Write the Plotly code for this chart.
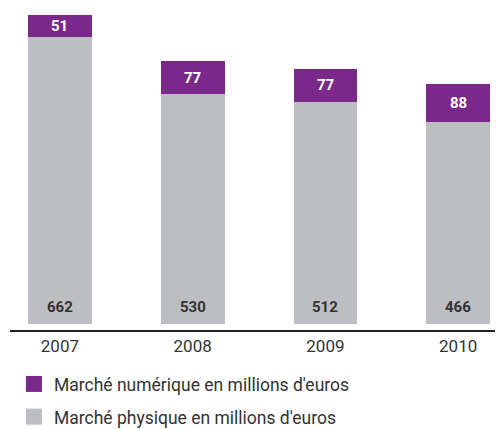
import plotly.graph_objects as go

years = ["2007", "2008", "2009", "2010"]
physique = [662, 530, 512, 466]
numerique = [51, 77, 77, 88]

purple = "#7A288A"
gray = "#BDBEC1"
font_family = "Roboto, Liberation Sans Narrow, sans-serif"

x = list(range(len(years)))

fig = go.Figure()
fig.add_trace(go.Bar(
    x=x, y=physique, marker=dict(color=gray, line=dict(width=0)), width=0.48,
    showlegend=False, name="Marché physique en millions d'euros",
))
fig.add_trace(go.Bar(
    x=x, y=numerique, marker=dict(color=purple, line=dict(width=0)), width=0.48,
    showlegend=False, name="Marché numérique en millions d'euros",
))
# value labels
for i in x:
    fig.add_annotation(x=i, y=0, yshift=17, text=str(physique[i]), showarrow=False,
                       xanchor="center", yanchor="middle",
                       font=dict(family=font_family, size=15, color="#333333", weight="bold"))
    fig.add_annotation(x=i, y=physique[i] + numerique[i] / 2, text=str(numerique[i]),
                       showarrow=False, xanchor="center", yanchor="middle",
                       font=dict(family=font_family, size=15, color="white", weight="bold"))
# legend entries
fig.add_trace(go.Scatter(x=[None], y=[None], mode="markers",
    marker=dict(symbol="square", size=16, color=purple),
    name="Marché numérique en millions d'euros", legendgroup="a"))
fig.add_trace(go.Scatter(x=[None], y=[None], mode="markers",
    marker=dict(symbol="square", size=16, color=gray),
    name="Marché physique en millions d'euros", legendgroup="b"))

fig.update_layout(
    width=495, height=421,
    margin=dict(l=2, r=0, t=0, b=99, autoexpand=False),
    barmode="stack",
    plot_bgcolor="white", paper_bgcolor="white",
    xaxis=dict(range=[-0.376, 3.338], tickvals=x, ticktext=years,
               showgrid=False, zeroline=False, showline=True,
               linecolor="#222222", linewidth=1.5, ticks="",
               tickfont=dict(family=font_family, size=17, color="#333333")),
    yaxis=dict(range=[-13.8, 729.2], visible=False, showgrid=False, zeroline=False),
    legend=dict(x=0.008, y=-0.112, xanchor="left", yanchor="top",
                font=dict(family=font_family, size=17.5, color="#333333"),
                tracegroupgap=7, bgcolor="rgba(0,0,0,0)"),
    showlegend=True,
)
fig.write_html("out.html")
